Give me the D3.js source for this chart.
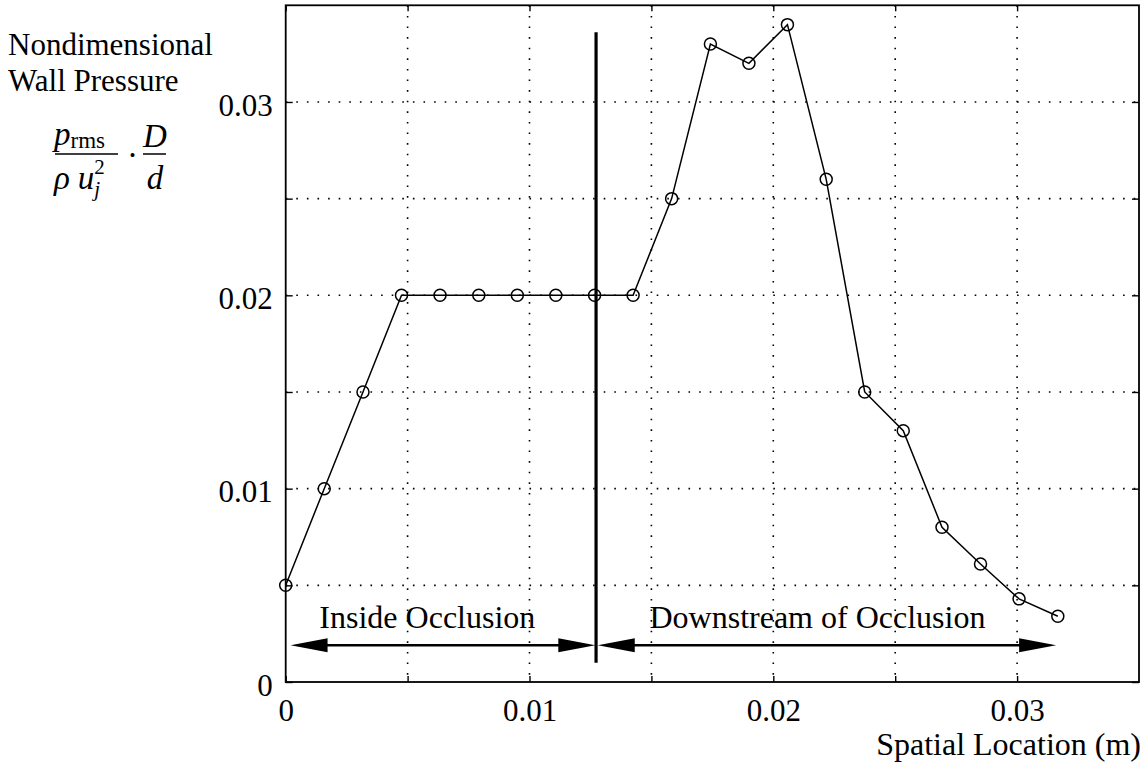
<!DOCTYPE html>
<html>
<head>
<meta charset="utf-8">
<script src="https://cdn.jsdelivr.net/npm/d3@7"></script>
<style>
  html, body { margin: 0; padding: 0; background: #fff; }
  svg { display: block; }
  text { font-family: "Liberation Serif", "Times New Roman", serif; fill: #000; }
</style>
</head>
<body>
<svg id="chart" width="1146" height="764"></svg>
<script>
// ---- data ----
const locations = [0, 0.00158, 0.00317, 0.00475, 0.00633, 0.00792, 0.0095, 0.01108, 0.01267, 0.01425,
                   0.01583, 0.01742, 0.019, 0.02058, 0.02217, 0.02375, 0.02533, 0.02692, 0.0285, 0.03008, 0.03167];
const pressures = [0.005, 0.010, 0.015, 0.020, 0.020, 0.020, 0.020, 0.020, 0.020, 0.020,
                   0.0250, 0.0330, 0.0320, 0.0340, 0.0260, 0.0150, 0.0130, 0.0080, 0.0061, 0.0043, 0.0034];
const xTickLabels = [0, 0.01, 0.02, 0.03];
const yTickLabels = [0, 0.01, 0.02, 0.03];
const gridSteps = [0.005, 0.01, 0.015, 0.02, 0.025, 0.03];
const dividerX = 0.01273;
const dividerY = [0.0010, 0.0336];
const regionNames = ["Inside Occlusion", "Downstream of Occlusion"];
const regionStart = [0.0002, 0.0128];
const regionEnd = [0.0127, 0.0316];
const regionCenter = [0.00581, 0.02181];
const arrowLevel = 0.0019;
const labelLevel = 0.00278;

// ---- layout ----
const svg = d3.select("#chart");
const L = 285.7, R = 1139, T = 5.3, B = 682;
const x = d3.scaleLinear().domain([0, 0.035]).range([L, R]);
const y = d3.scaleLinear().domain([0, 0.035]).range([B, T]);
const FS = 32, TFS = 31;

// grid (dotted)
const grid = svg.append("g");
grid.selectAll("line.v").data(gridSteps).join("line")
  .attr("x1", d => x(d)).attr("x2", d => x(d)).attr("y1", T).attr("y2", B)
  .attr("stroke", "#000").attr("stroke-width", 1.6).attr("stroke-dasharray", "1.6,9");
grid.selectAll("line.h").data(gridSteps).join("line")
  .attr("x1", L).attr("x2", R).attr("y1", d => y(d)).attr("y2", d => y(d))
  .attr("stroke", "#000").attr("stroke-width", 1.6).attr("stroke-dasharray", "1.6,9");

// axes with inward ticks
const tickVals = [0, ...gridSteps];
const fmt = d => d === 0 ? "0" : d3.format(".2f")(d);
const xAxisB = d3.axisBottom(x).tickValues(tickVals).tickSizeInner(-6).tickSizeOuter(0)
  .tickFormat(d => xTickLabels.includes(d) ? fmt(d) : "").tickPadding(17);
const xAxisT = d3.axisTop(x).tickValues(tickVals).tickSizeInner(-6).tickSizeOuter(0).tickFormat("");
const yAxisL = d3.axisLeft(y).tickValues(tickVals).tickSizeInner(-7).tickSizeOuter(0)
  .tickFormat(d => yTickLabels.includes(d) ? fmt(d) : "").tickPadding(13);
const yAxisR = d3.axisRight(y).tickValues(tickVals).tickSizeInner(-7).tickSizeOuter(0).tickFormat("");

function styleAxis(g) {
  g.select(".domain").remove();
  g.selectAll(".tick line").attr("stroke", "#000").attr("stroke-width", 1.4);
  g.selectAll(".tick text").attr("font-size", TFS).attr("font-family", "Liberation Serif, Times New Roman, serif").attr("fill", "#000");
}
svg.append("g").attr("transform", `translate(0,${B})`).call(xAxisB).call(styleAxis);
svg.append("g").attr("transform", `translate(0,${T})`).call(xAxisT).call(styleAxis);
const gy = svg.append("g").attr("transform", `translate(${L},0)`).call(yAxisL).call(styleAxis);
gy.selectAll(".tick text").attr("dy", "0.42em");
svg.append("g").attr("transform", `translate(${R},0)`).call(yAxisR).call(styleAxis);

// frame
svg.append("rect").attr("x", L).attr("y", T).attr("width", R - L).attr("height", B - T)
  .attr("fill", "none").attr("stroke", "#000").attr("stroke-width", 1.8);

// divider
svg.append("line").attr("x1", x(dividerX)).attr("x2", x(dividerX))
  .attr("y1", y(dividerY[0])).attr("y2", y(dividerY[1]))
  .attr("stroke", "#000").attr("stroke-width", 3.2);

// region arrows
const head = 37, half = 7;
regionNames.forEach((name, i) => {
  const x0 = x(regionStart[i]), x1 = x(regionEnd[i]), ya = y(arrowLevel);
  svg.append("line").attr("x1", x0 + head - 2).attr("x2", x1 - head + 2).attr("y1", ya).attr("y2", ya)
    .attr("stroke", "#000").attr("stroke-width", 2.6);
  svg.append("path").attr("d", `M${x0},${ya} L${x0 + head},${ya - half} L${x0 + head},${ya + half} Z`).attr("fill", "#000");
  svg.append("path").attr("d", `M${x1},${ya} L${x1 - head},${ya - half} L${x1 - head},${ya + half} Z`).attr("fill", "#000");
  svg.append("text").attr("x", x(regionCenter[i])).attr("y", y(labelLevel))
    .attr("text-anchor", "middle").attr("font-size", FS).text(name);
});

// data line + markers
const line = d3.line().x((d, i) => x(locations[i])).y(d => y(d));
svg.append("path").datum(pressures).attr("d", line)
  .attr("fill", "none").attr("stroke", "#000").attr("stroke-width", 1.5);
svg.selectAll("circle.pt").data(pressures).join("circle")
  .attr("cx", (d, i) => x(locations[i])).attr("cy", d => y(d)).attr("r", 6)
  .attr("fill", "none").attr("stroke", "#000").attr("stroke-width", 1.5);

// axis titles
svg.append("text").attr("x", R + 2).attr("y", 755).attr("text-anchor", "end").attr("font-size", FS).text("Spatial Location (m)");
svg.append("text").attr("x", 8).attr("y", 55).attr("font-size", 31).text("Nondimensional");
svg.append("text").attr("x", 8).attr("y", 91).attr("font-size", 31).text("Wall Pressure");

// formula
const f = svg.append("g");
const num = f.append("text").attr("x", 54).attr("y", 145).attr("font-size", 33);
num.append("tspan").attr("font-style", "italic").text("p");
num.append("tspan").attr("font-size", 23).attr("dy", 3).text("rms");
f.append("line").attr("x1", 55).attr("x2", 118).attr("y1", 154).attr("y2", 154).attr("stroke", "#000").attr("stroke-width", 1.5);
const den = f.append("text").attr("x", 54).attr("y", 189).attr("font-size", 33);
den.append("tspan").attr("font-style", "italic").text("ρ");
den.append("tspan").attr("font-style", "italic").attr("dx", 8).text("u");
den.append("tspan").attr("font-style", "italic").attr("font-size", 21).attr("dy", 7).attr("dx", 0).text("j");
den.append("tspan").attr("font-size", 21).attr("dy", -22).attr("dx", -6).text("2");
f.append("text").attr("x", 127).attr("y", 166).attr("font-size", 33).text("·");
f.append("text").attr("x", 155).attr("y", 147).attr("font-size", 33).attr("text-anchor", "middle").attr("font-style", "italic").text("D");
f.append("line").attr("x1", 143).attr("x2", 166).attr("y1", 154).attr("y2", 154).attr("stroke", "#000").attr("stroke-width", 1.5);
f.append("text").attr("x", 155).attr("y", 189).attr("font-size", 33).attr("text-anchor", "middle").attr("font-style", "italic").text("d");
</script>
</body>
</html>
